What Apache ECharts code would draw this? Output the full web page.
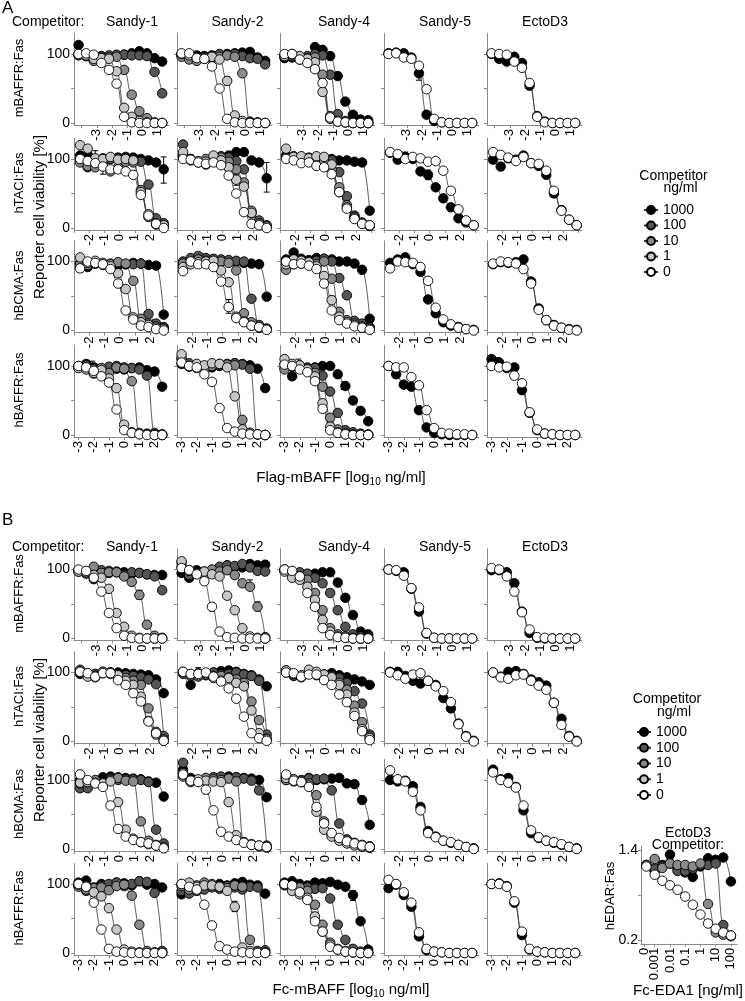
<!DOCTYPE html>
<html><head><meta charset="utf-8">
<script src="https://cdn.jsdelivr.net/npm/echarts@6/dist/echarts.min.js"></script>
<style>html,body{margin:0;padding:0;background:#fff}#c{width:745px;height:1001px}</style>
</head><body><div id="c"></div>
<script>
// ---------------- DATA ----------------
const competitors = ['Sandy-1','Sandy-2','Sandy-4','Sandy-5','EctoD3'];
const receptors = ['mBAFFR:Fas','hTACI:Fas','hBCMA:Fas','hBAFFR:Fas'];
const concLevels = ['1000','100','10','1','0'];   // competitor ng/ml (Sandy-1/2/4)
const concSingle = ['1000','0'];                  // competitor ng/ml (Sandy-5 / EctoD3)
// doses, log10 ng/ml
const X_row1 = [-4.2,-3.7,-3.2,-2.7,-2.2,-1.7,-1.2,-0.7,-0.2,0.3,0.8,1.3];
const X_row23 = [-2.6,-2.1,-1.6,-1.1,-0.6,-0.1,0.4,0.9,1.4,1.9,2.4,2.9];
const X_row4 = [-3.0,-2.5,-2.0,-1.5,-1.0,-0.5,0.0,0.5,1.0,1.5,2.0,2.5];
const xLabels_row1 = [-3,-2,-1,0,1];
const xLabels_row23 = [-2,-1,0,1,2];
const xLabels_row4 = [-3,-2,-1,0,1,2];
const yLabels = [0,100];

// Panel A (Flag-mBAFF), reporter cell viability [%]; per column: series in concLevels / concSingle order
const A_mBAFFR = [
 [[113,99,96,97,97,98,99,101,104,101,94,89],[99,97,92,96,98,99,99,98,98,97,74,43],[98,97,90,93,95,96,77,41,17,7,1,0],[99,98,93,94,93,75,22,9,3,1,0,0],[100,101,99,87,77,57,9,1,0,0,0,0]],
 [[100,99,98,97,98,99,100,101,102,103,95,90],[98,93,92,96,97,100,99,100,97,94,93,85],[96,92,90,94,95,96,98,96,72,2,1,0],[100,98,95,93,96,92,61,11,3,1,0,0],[101,101,94,93,82,50,6,1,0,0,0,0]],
 [[94,95,92,95,110,106,97,68,31,12,5,4],[98,100,96,97,100,98,70,13,3,1,0,0],[96,97,95,94,95,70,10,3,1,0,0,0],[97,99,97,93,88,45,6,2,1,0,0,0],[100,100,92,87,78,58,8,2,1,0,0,0]],
 [[101,102,101,95,72,12,3,1,0,0,0,0],[100,101,95,93,83,49,6,1,0,0,0,0]],
 [[100,93,89,96,87,54,10,2,0,0,0,0],[101,100,99,89,80,58,9,1,0,0,0,0]]
];
const A_hTACI = [
 [[105,106,100,101,100,102,103,102,100,98,95,85],[100,88,98,97,100,101,100,98,96,63,14,7],[95,90,88,92,82,88,96,95,55,16,5,4],[120,115,101,100,103,99,100,98,52,20,7,4],[100,97,94,89,85,85,82,77,48,18,6,0]],
 [[103,100,96,92,97,103,105,110,110,98,95,72],[121,100,95,97,100,104,102,97,85,21,11,4],[105,98,96,100,98,102,96,85,66,25,7,3],[110,99,97,96,105,98,88,70,60,22,6,2],[100,99,95,93,95,91,76,50,23,6,4,0]],
 [[105,103,102,101,100,99,100,98,98,96,95,25],[103,104,103,102,101,100,98,81,46,18,8,4],[102,101,102,100,99,97,85,59,33,16,6,3],[115,103,104,101,104,103,92,52,30,14,7,3],[100,98,94,95,90,88,78,52,28,13,6,4]],
 [[109,99,103,100,82,77,59,43,30,14,8,4],[110,107,100,103,101,96,97,83,54,27,11,4]],
 [[99,89,101,99,105,94,90,77,50,26,12,4],[110,106,102,97,103,94,93,83,54,25,12,4]]
];
const A_hBCMA = [
 [[95,92,97,96,95,94,96,98,97,95,94,23],[98,97,99,96,97,98,96,96,97,24,10,5],[96,95,97,98,96,99,97,72,17,10,6,3],[106,98,101,95,93,83,60,19,12,8,4,2],[90,100,98,96,89,68,29,16,7,5,2,0]],
 [[98,101,104,104,103,102,101,100,98,97,96,49],[100,105,108,105,104,103,102,101,100,46,8,3],[97,98,103,101,97,100,98,87,25,12,5,2],[92,96,99,100,101,87,70,20,13,7,4,2],[86,100,96,96,92,71,34,18,12,7,5,1]],
 [[103,113,104,102,105,104,103,100,100,97,88,17],[98,96,97,100,101,104,100,76,51,14,10,5],[88,102,99,97,96,100,75,27,15,10,6,3],[96,103,101,99,93,79,44,20,12,8,4,2],[100,96,97,94,89,68,29,15,10,6,4,1]],
 [[98,103,106,96,85,45,25,12,7,5,2,1],[90,100,99,98,92,72,33,16,9,4,2,0]],
 [[96,99,98,99,103,71,32,15,8,4,2,1],[97,100,99,97,89,68,30,15,7,4,1,0]]
];
const A_hBAFFR = [
 [[100,103,98,96,92,96,95,97,98,94,92,70],[99,101,96,90,99,100,98,97,95,86,3,1],[98,96,89,97,90,98,96,78,3,2,1,0],[97,95,90,94,82,68,15,4,2,1,0,0],[100,98,93,85,76,37,7,3,1,0,0,0]],
 [[103,101,99,97,98,100,103,104,103,101,96,68],[110,104,100,99,100,101,102,104,102,96,1,0],[112,99,97,95,100,103,102,101,22,3,1,0],[117,100,103,101,104,103,98,56,8,3,1,0],[105,100,98,88,77,39,10,5,2,1,1,0]],
 [[103,85,98,96,98,100,100,88,71,50,35,20],[97,99,101,98,97,86,63,32,7,4,2,1],[95,100,99,96,90,70,25,8,3,1,0,0],[110,103,101,95,85,46,12,4,1,0,0,0],[102,100,95,91,78,38,7,3,1,0,0,0]],
 [[100,88,73,70,36,11,3,1,0,0,0,0],[100,98,98,84,72,36,10,3,2,1,1,0]],
 [[110,105,97,98,65,32,7,2,1,0,0,0],[100,98,99,86,75,33,8,2,1,0,0,0]]
];
// Panel B (Fc-mBAFF)
const B_mBAFFR = [
 [[97,95,86,93,95,97,96,94,95,93,92,92],[99,94,97,99,98,96,92,96,95,93,90,70],[98,97,104,95,96,96,90,82,63,20,4,1],[97,96,92,88,72,37,17,4,1,0,0,0],[100,98,88,68,37,15,4,1,0,0,0,0]],
 [[95,88,99,95,96,100,106,104,103,108,106,107],[110,92,95,97,99,104,106,105,108,103,98,97],[104,98,94,92,100,97,99,92,80,75,46,2],[112,99,94,97,93,90,62,41,15,3,1,0],[102,99,93,83,46,10,2,1,0,0,0,0]],
 [[100,97,94,93,94,96,96,81,59,34,10,6],[99,95,96,94,88,80,66,41,17,6,3,2],[98,92,90,85,66,41,15,6,3,1,0,0],[97,88,85,75,56,27,10,3,1,0,0,0],[100,98,90,66,46,15,5,2,1,0,0,0]],
 [[100,98,96,72,39,7,1,0,0,0,0,0],[100,99,91,73,45,8,1,0,0,0,0,0]],
 [[99,99,96,80,39,8,1,0,0,0,0,0],[102,100,90,68,38,13,2,1,0,0,0,0]]
];
const B_hTACI = [
 [[98,96,97,99,100,100,99,98,97,96,90,70],[100,99,98,101,100,97,96,95,93,90,83,8],[104,97,95,100,100,94,92,88,82,48,14,3],[102,94,93,101,98,96,88,82,65,30,10,1],[101,99,94,99,99,89,82,70,58,29,12,1]],
 [[100,82,98,96,100,102,103,101,98,96,90,80],[101,97,99,98,100,97,98,100,97,95,88,10],[98,95,94,97,95,95,93,90,85,58,31,4],[100,97,96,99,92,88,92,85,80,45,12,3],[101,98,98,100,94,87,77,62,36,12,5,1]],
 [[103,97,95,100,98,97,99,96,93,90,87,82],[100,95,94,98,96,97,95,92,85,73,55,10],[101,96,93,100,97,95,92,85,75,52,28,7],[103,98,96,104,101,97,93,82,68,42,18,5],[100,99,94,97,97,89,82,68,57,37,15,2]],
 [[101,101,95,88,84,88,82,63,48,26,8,1],[100,96,91,97,99,88,80,73,57,25,7,0]],
 [[100,94,101,102,98,90,86,81,56,33,8,1],[100,93,91,96,97,88,81,75,56,24,7,0]]
];
const B_hBCMA = [
 [[100,98,97,104,105,104,103,102,101,98,96,76],[88,88,99,97,102,100,101,101,100,97,28,8],[95,97,100,96,100,103,99,98,40,12,6,3],[96,97,96,95,98,68,28,15,10,7,5,2],[108,100,95,90,63,29,18,13,10,8,5,1]],
 [[115,103,99,100,103,102,105,104,103,102,100,75],[125,98,100,102,104,105,103,104,102,99,85,5],[105,97,98,103,101,100,102,98,10,6,4,2],[110,100,101,99,98,97,68,20,10,7,5,3],[108,99,97,86,56,25,18,13,9,6,5,3]],
 [[105,98,97,103,100,101,102,103,95,94,71,35],[100,101,100,102,101,102,85,37,14,9,6,4],[100,99,97,95,78,40,20,13,9,6,4,2],[103,101,98,92,54,28,18,12,8,5,3,2],[108,99,97,90,61,37,23,16,11,8,5,3]],
 [[100,98,99,91,61,26,18,12,9,6,3,1],[114,101,98,83,56,23,17,12,10,6,3,0]],
 [[115,101,103,90,56,23,16,12,9,6,3,1],[111,100,96,89,63,27,17,12,10,7,3,0]]
];
const B_hBAFFR = [
 [[102,105,95,100,99,102,101,98,104,99,100,95],[98,90,93,97,100,102,97,100,104,103,87,3],[96,92,94,95,91,97,99,83,41,3,1,0],[99,97,88,82,65,34,5,2,1,0,0,0],[100,96,73,34,6,2,1,0,0,0,0,0]],
 [[85,88,92,95,97,100,98,101,103,99,98,86],[90,86,90,92,95,93,97,95,92,96,95,4],[97,92,98,102,100,96,94,98,96,19,3,1],[100,102,96,98,98,96,90,67,8,3,1,0],[100,96,92,70,40,10,5,2,1,0,0,0]],
 [[102,104,100,98,102,101,103,99,96,84,46,5],[100,98,96,95,93,94,79,41,19,6,2,1],[98,97,95,90,70,41,15,6,3,1,0,0],[99,90,85,80,53,31,12,5,2,1,0,0],[100,98,88,77,46,31,9,5,2,1,0,0]],
 [[94,99,84,67,24,4,2,1,0,0,0,0],[106,100,88,73,30,6,2,1,0,0,0,0]],
 [[100,101,97,73,26,5,2,1,0,0,0,0],[100,100,96,75,31,6,2,1,0,0,0,0]]
];
// error bars: [panel(0=A,1=B), row, column, dose, low, high]
const errorBars = [
 [0,0,1,-1.2,55,67],[0,0,3,-2.2,62,76],[0,0,4,-1.7,50,62],
 [0,1,0,2.9,65,103],[0,1,0,-1.6,90,112],[0,1,0,-1.1,78,92],[0,1,1,2.9,52,95],[0,1,1,0.9,62,78],[0,1,3,-0.1,70,84],[0,1,3,-1.6,95,110],
 [0,2,0,-2.6,84,97],[0,2,1,0.4,25,45],[0,2,2,0.4,40,50],
 [0,3,0,-2.1,93,107],[0,3,2,0.9,66,77],[0,3,2,-2.1,100,110],[0,3,4,-2.6,95,112],
 [1,0,0,-0.2,57,70],[1,0,1,-2.2,40,52],[1,0,1,0.8,40,53],[1,0,1,0.3,75,85],
 [1,1,0,-2.6,96,106],[1,1,1,-1.6,100,107],
 [1,2,0,-2.6,100,114],[1,2,1,-1.1,80,92],[1,2,1,-2.1,92,104],
 [1,3,1,0.5,60,75],[1,3,2,1.5,76,90]
];
// Panel B inset: hEDAR:Fas vs Fc-EDA1, competitor EctoD3
const X_EDA = [-3.55,-3,-2.5,-2,-1.5,-1,-0.5,0,0.5,1,1.5,2];
const EDA_xLabelPos = [-3.7,-3,-2,-1,0,1,2];
const EDA_xLabelText = ['0','0.001','0.01','0.1','1','10','100'];
const EDA_conc = ['1000','100','10','0'];
const EDA_vals = [
 [1.20,1.12,1.20,1.34,1.15,1.10,1.04,1.18,1.29,1.27,1.30,0.98],
 [1.20,1.15,1.18,1.22,1.12,1.12,1.15,1.20,1.20,1.22,0.40,0.26],
 [1.20,1.28,1.16,1.22,1.20,1.20,1.18,1.22,0.68,0.30,0.27,0.25],
 [1.18,1.07,0.99,0.93,0.87,0.78,0.67,0.54,0.42,0.35,0.30,0.26]
];

// ---------------- LAYOUT / STYLE ----------------
const FONT = "'Liberation Sans', Arial, Helvetica, sans-serif";
const FILL = {'1000':'#000000','100':'#555555','10':'#8a8a8a','1':'#c6c6c6','0':'#ffffff'};
const AXC = '#8a8a8a';
const colLeft = [74,177,280,384,487];
const plotW = 95;
const PXP = 0.69, YMIN = -3, YMAX = 130;
const yZeroA = [123,228,330.5,435];
const yZeroB = [638.5,741.5,849,953];
const rowX = [X_row1, X_row23, X_row23, X_row4];
const rowRange = [[-4.5,1.75],[-3.0,3.25],[-3.0,3.25],[-3.3,2.95]];
const rowLabels = [xLabels_row1, xLabels_row23, xLabels_row23, xLabels_row4];
const rowTicks = [[-4,-3,-2,-1,0,1],[-3,-2,-1,0,1,2,3],[-3,-2,-1,0,1,2,3],[-3,-2,-1,0,1,2]];

const grids=[], xAxes=[], yAxes=[], series=[];
function mkSeries(name, xs, ys, gi){
  return {type:'line', name, xAxisIndex:gi, yAxisIndex:gi,
    data: xs.map((x,i)=>[x, ys[i]]).filter(d=>d[1]!=null),
    smooth:0.5, smoothMonotone:'x', symbol:'circle', symbolSize:9.5, showSymbol:true, clip:false,
    lineStyle:{color:'#333', width:0.8},
    itemStyle:{color:FILL[name], borderColor:'#000', borderWidth:0.9},
    emphasis:{disabled:true}, silent:true, animation:false, z:3};
}
function errRender(params, api){
  const x = api.value(0);
  const p1 = api.coord([x, api.value(1)]), p2 = api.coord([x, api.value(2)]);
  const st = {stroke:'#000', lineWidth:1};
  return {type:'group', children:[
    {type:'line', shape:{x1:p1[0],y1:p1[1],x2:p2[0],y2:p2[1]}, style:st},
    {type:'line', shape:{x1:p1[0]-3,y1:p1[1],x2:p1[0]+3,y2:p1[1]}, style:st},
    {type:'line', shape:{x1:p2[0]-3,y1:p2[1],x2:p2[0]+3,y2:p2[1]}, style:st}]};
}
let gi = 0;
[[A_mBAFFR,A_hTACI,A_hBCMA,A_hBAFFR],[B_mBAFFR,B_hTACI,B_hBCMA,B_hBAFFR]].forEach((rows,p)=>{
  const y0s = p===0 ? yZeroA : yZeroB;
  rows.forEach((rowData,r)=>{
    rowData.forEach((colData,c)=>{
      grids.push({left:colLeft[c], top:y0s[r]-YMAX*PXP, width:plotW, height:(YMAX-YMIN)*PXP, containLabel:false, outerBoundsMode:'none'});
      xAxes.push({gridIndex:gi, type:'value', min:rowRange[r][0], max:rowRange[r][1],
        axisLine:{show:true, onZero:false, lineStyle:{color:AXC, width:1}},
        axisTick:{show:true, length:3, customValues:rowTicks[r], lineStyle:{color:AXC}},
        axisLabel:{show:true, rotate:90, customValues:rowLabels[r], fontSize:13, fontFamily:FONT, color:'#000', margin:4},
        splitLine:{show:false}});
      yAxes.push({gridIndex:gi, type:'value', min:YMIN, max:YMAX,
        axisLine:{show:true, onZero:false, lineStyle:{color:AXC, width:1}},
        axisTick:{show:true, length:3, customValues:[0,50,100], lineStyle:{color:AXC}},
        axisLabel:{show:c===0, customValues:yLabels, fontSize:14, fontFamily:FONT, color:'#000', margin:4},
        splitLine:{show:false}});
      const eb = errorBars.filter(e=>e[0]===p && e[1]===r && e[2]===c).map(e=>[e[3],e[4],e[5]]);
      if (eb.length) series.push({type:'custom', xAxisIndex:gi, yAxisIndex:gi, data:eb, renderItem:errRender,
        silent:true, animation:false, z:2, clip:false});
      const names = colData.length===5 ? concLevels : concSingle;
      colData.forEach((ys,k)=>series.push(mkSeries(names[k], rowX[r], ys, gi)));
      gi++;
    });
  });
});
// inset
const insetGi = gi;
const INSET_YMIN = 0.15;
grids.push({left:641, top:846.25, width:96, height:97.5, containLabel:false, outerBoundsMode:'none'});
xAxes.push({gridIndex:gi, type:'value', min:-3.9, max:2.4,
  axisLine:{show:true, onZero:false, lineStyle:{color:AXC}},
  axisTick:{show:true, length:3, customValues:EDA_xLabelPos, lineStyle:{color:AXC}},
  axisLabel:{show:false},
  splitLine:{show:false}});
yAxes.push({gridIndex:gi, type:'value', min:INSET_YMIN, max:1.45,
  axisLine:{show:true, onZero:false, lineStyle:{color:AXC}},
  axisTick:{show:true, length:3, customValues:[0.2,0.8,1.4], lineStyle:{color:AXC}},
  axisLabel:{show:true, customValues:[0.2,1.4], fontSize:14, fontFamily:FONT, color:'#000', margin:3,
    showMinLabel:true, showMaxLabel:true, formatter:v=>v.toFixed(1)},
  splitLine:{show:false}});
EDA_vals.forEach((ys,k)=>series.push(mkSeries(EDA_conc[k], X_EDA, ys, gi)));

// ---------------- TEXT ----------------
function txt(text, x, y, size, opts){
  opts = opts||{};
  return {type:'text', x, y, rotation: opts.rot||0, silent:true,
    style:{text, font:`${size}px ${FONT}`, fill:'#000',
      align:opts.align||'center', verticalAlign:opts.va||'middle',
      textAlign:opts.align||'center', textVerticalAlign:opts.va||'middle', rich:opts.rich}};
}
const graphics = [];
const titleX = [132,237.5,344,445,545];
[[yZeroA, 22.5, 0, 'Flag-mBAFF', 341, 478, 217, 176, 188, 673.5, 680.5],
 [yZeroB, 547, 512, 'Fc-mBAFF', 351, 990, 740, 699, 712, 667, 674]].forEach((P,p)=>{
  const [y0s, ty, ly, lig, axX, axY, yTitleY, legY1, legY2, legX1, legX2] = P;
  graphics.push(txt(p===0?'A':'B', 2, ly, 17, {align:'left', va:'top'}));
  graphics.push(txt('Competitor:', 12, ty, 14, {align:'left'}));
  competitors.forEach((c,i)=>graphics.push(txt(c, titleX[i], ty, 14)));
  receptors.forEach((r,i)=>graphics.push(txt(r, 19, y0s[i]-45, 13, {rot:Math.PI/2})));
  graphics.push(txt('Reporter cell viability [%]', 40, yTitleY, 15, {rot:Math.PI/2}));
  graphics.push(txt(`{a|${lig} [log}{s|10}{a| ng/ml]}`, axX, axY, 15, {rich:{
    a:{fontSize:15, fontFamily:FONT, lineHeight:18, fill:'#000'},
    s:{fontSize:10, fontFamily:FONT, lineHeight:10, verticalAlign:'bottom', fill:'#000'}}}));
  graphics.push(txt('Competitor', legX1, legY1, 14));
  graphics.push(txt('ng/ml', legX2, legY2, 14));
});
graphics.push(txt('EctoD3', 688, 833, 14));
graphics.push(txt('Competitor:', 688, 845, 14));
graphics.push(txt('hEDAR:Fas', 610, 896, 13, {rot:Math.PI/2}));
graphics.push(txt('Fc-EDA1 [ng/ml]', 688, 991, 15));

const legendBase = {data:concLevels, orient:'vertical', itemWidth:14, itemHeight:10, itemGap:1.5, padding:0,
  selectedMode:false, itemTextGap:5, textStyle:{fontSize:14, fontFamily:FONT, color:'#000', lineHeight:10}};

const chart = echarts.init(document.getElementById('c'), null, {renderer:'canvas', width:745, height:1001});
chart.setOption({
  animation:false, backgroundColor:'#fff',
  grid:grids, xAxis:xAxes, yAxis:yAxes, series,
  legend:[Object.assign({}, legendBase, {left:643, top:203}), Object.assign({}, legendBase, {left:636, top:725, itemGap:1.75})]
});
// inset dose labels placed through the inset's own axis scale
EDA_xLabelPos.forEach((v,i)=>{
  const pt = chart.convertToPixel({gridIndex:insetGi}, [v, INSET_YMIN]);
  graphics.push(txt(EDA_xLabelText[i], pt[0], pt[1]+4, 13, {rot:Math.PI/2, align:'right', va:'middle'}));
});
chart.setOption({graphic:{elements:graphics}});
</script></body></html>
